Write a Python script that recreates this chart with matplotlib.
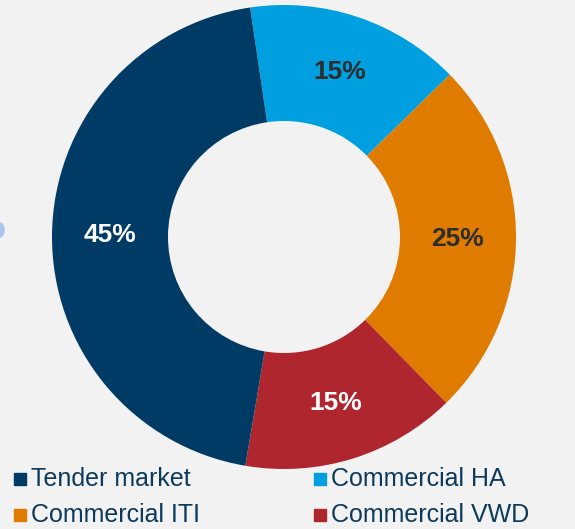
import matplotlib
matplotlib.use("Agg")
import matplotlib.pyplot as plt
from matplotlib.patches import Rectangle, Ellipse

categories = ["Commercial HA", "Commercial ITI", "Commercial VWD", "Tender market"]
values = [15, 25, 15, 45]
colors = ["#009fdf", "#df7c00", "#b0262f", "#003b66"]
label_colors = ["#2d2d2d", "#2d2d2d", "#ffffff", "#ffffff"]
legend_order = ["Tender market", "Commercial HA", "Commercial ITI", "Commercial VWD"]

plt.rcParams['font.family'] = ['Liberation Sans', 'DejaVu Sans']
W, H = 575, 529
fig = plt.figure(figsize=(W / 100, H / 100), dpi=100)
fig.patch.set_facecolor("#f2f2f2")

cx, cy, R = 284, 237, 232
ax = fig.add_axes([(cx - R) / W, (H - cy - R) / H, 2 * R / W, 2 * R / H])
ax.set_facecolor("none")
wedges, texts, autotexts = ax.pie(
    values, colors=colors, startangle=98.4, counterclock=False,
    radius=1, wedgeprops=dict(width=0.5, linewidth=0),
    autopct=lambda p: f"{p:.0f}%", pctdistance=0.75,
    textprops=dict(fontsize=19, fontweight="bold"))
for t, c in zip(autotexts, label_colors):
    t.set_color(c)
ax.set_xlim(-1, 1)
ax.set_ylim(-1, 1)
ax.set_aspect("equal")
ax.axis("off")

# small artifact at left edge
fig.patches.append(Ellipse((0 / W, (H - 230) / H), 8 / W, 14 / H,
                           transform=fig.transFigure, color="#a9c6ee", zorder=0))

# legend
col_x = [14, 314]
row_y = [479, 515]
for i, name in enumerate(legend_order):
    r, c = divmod(i, 2)
    col = colors[categories.index(name)]
    x0 = col_x[c]
    y0 = row_y[r]
    fig.patches.append(Rectangle((x0 / W, (H - y0 - 6) / H), 12 / W, 12 / H,
                                 transform=fig.transFigure, color=col))
    fig.text((x0 + 17) / W, (H - y0) / H, name, fontsize=18, color="#0d3a5c",
             va="center", ha="left")

fig.savefig("out.png", dpi=100, facecolor=fig.get_facecolor())
